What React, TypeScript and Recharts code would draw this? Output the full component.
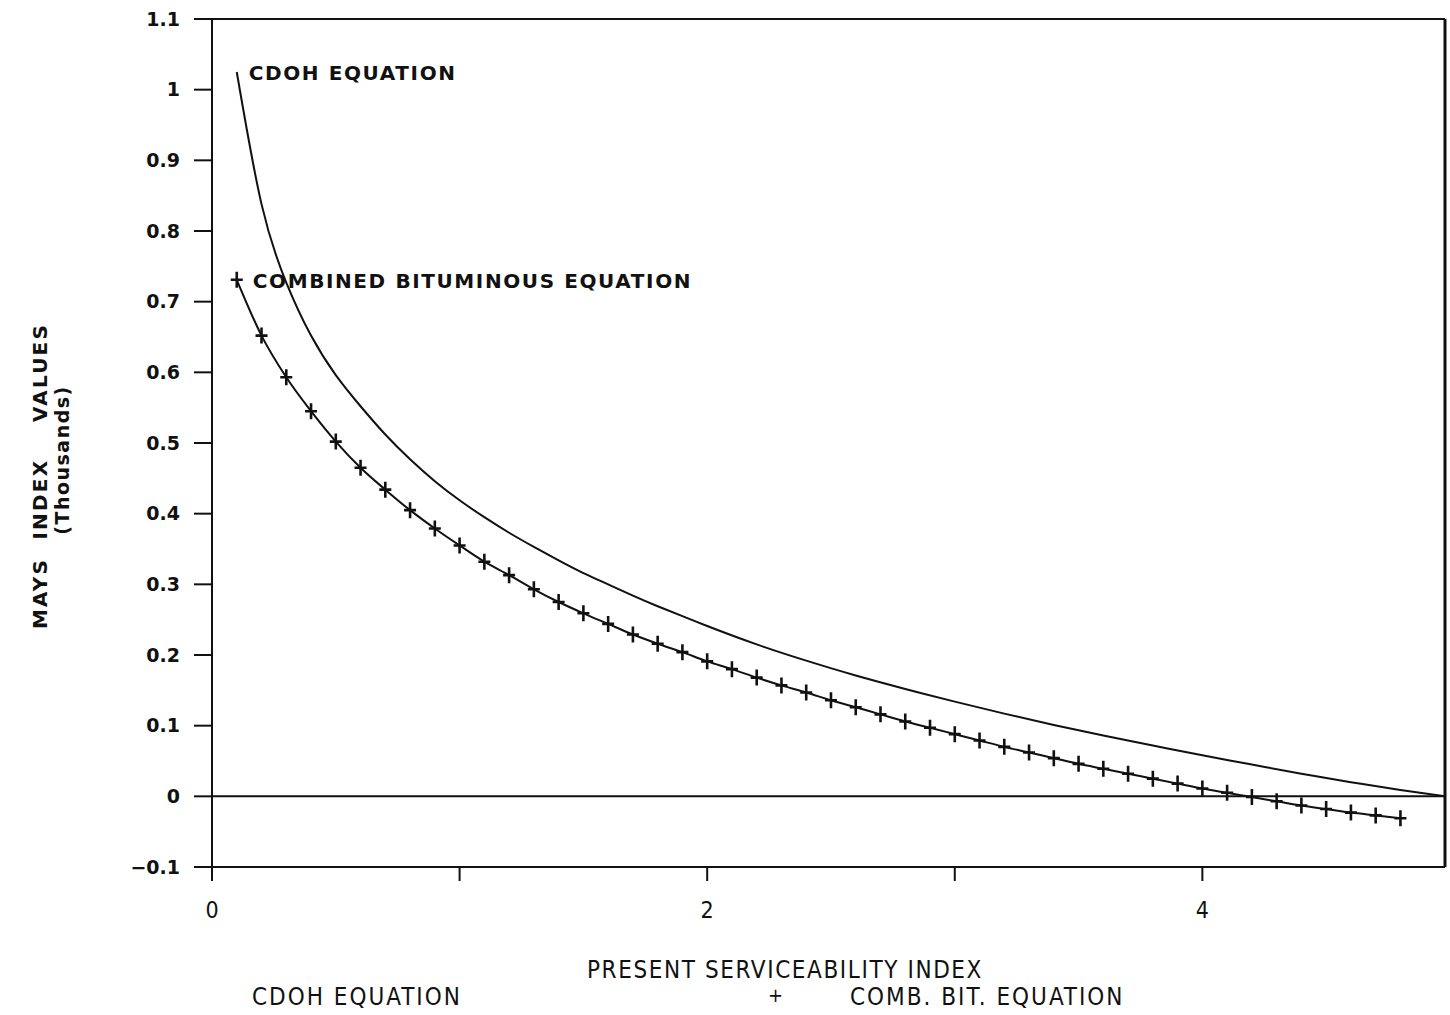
import React from 'react';
import { LineChart, Line, XAxis, YAxis, ReferenceLine, Legend, LabelList, Label } from 'recharts';

// CDOH equation curve
const cdohPsi = [0.1, 0.2, 0.3, 0.4, 0.5, 0.6, 0.7, 0.8, 0.9, 1.0, 1.1, 1.2, 1.3, 1.4, 1.5, 1.6, 1.7, 1.8, 1.9, 2.0, 2.2, 2.4, 2.6, 2.8, 3.0, 3.2, 3.4, 3.6, 3.8, 4.0, 4.2, 4.4, 4.6, 4.8, 4.98];
const cdohValues = [1.025, 0.838, 0.727, 0.652, 0.596, 0.552, 0.512, 0.477, 0.446, 0.419, 0.395, 0.373, 0.353, 0.334, 0.316, 0.3, 0.284, 0.269, 0.255, 0.241, 0.215, 0.192, 0.171, 0.152, 0.134, 0.117, 0.101, 0.086, 0.072, 0.058, 0.045, 0.032, 0.02, 0.009, 0.0];

// combined bituminous equation, one marker every 0.1 PSI
const combPsi = [0.1, 0.2, 0.3, 0.4, 0.5, 0.6, 0.7, 0.8, 0.9, 1.0, 1.1, 1.2, 1.3, 1.4, 1.5, 1.6, 1.7, 1.8, 1.9, 2.0, 2.1, 2.2, 2.3, 2.4, 2.5, 2.6, 2.7, 2.8, 2.9, 3.0, 3.1, 3.2, 3.3, 3.4, 3.5, 3.6, 3.7, 3.8, 3.9, 4.0, 4.1, 4.2, 4.3, 4.4, 4.5, 4.6, 4.7, 4.8];
const combValues = [0.731, 0.652, 0.593, 0.545, 0.502, 0.465, 0.434, 0.405, 0.379, 0.355, 0.332, 0.313, 0.293, 0.275, 0.259, 0.244, 0.229, 0.216, 0.204, 0.191, 0.18, 0.168, 0.157, 0.147, 0.136, 0.126, 0.116, 0.106, 0.097, 0.088, 0.079, 0.07, 0.062, 0.054, 0.046, 0.039, 0.032, 0.025, 0.018, 0.011, 0.005, -0.001, -0.007, -0.013, -0.018, -0.023, -0.027, -0.031];

const xTicks = [0, 1, 2, 3, 4];
const xTickLabels = ['0', '', '2', '', '4'];
const yTicks = [-0.1, 0, 0.1, 0.2, 0.3, 0.4, 0.5, 0.6, 0.7, 0.8, 0.9, 1.0, 1.1];
const yTickLabels = ['\u22120.1', '0', '0.1', '0.2', '0.3', '0.4', '0.5', '0.6', '0.7', '0.8', '0.9', '1', '1.1'];

const cdohData = cdohPsi.map((psi, i) => ({ psi, value: cdohValues[i] }));
const combData = combPsi.map((psi, i) => ({ psi, value: combValues[i] }));

const INK = '#111';
const boldFont = '"DejaVu Sans", sans-serif';
const narrowFont = '"DejaVu Sans Condensed", "DejaVu Sans", sans-serif';

const PlusDot = (props: any) => {
  const { cx, cy, index } = props;
  if (cx == null || cy == null) return <g key={index} />;
  return (
    <path
      key={index}
      d={`M${cx - 6},${cy}H${cx + 6}M${cx},${cy - 8}V${cy + 8}`}
      stroke={INK}
      strokeWidth={2.6}
      fill="none"
    />
  );
};

const seriesLabel = (text: string, dx: number) => (props: any) => {
  const { x, y, index } = props;
  if (index !== 0) return null;
  return (
    <text
      x={x + dx}
      y={y + 8}
      fill={INK}
      fontFamily={boldFont}
      fontWeight="bold"
      fontSize={20}
      letterSpacing={1.6}
    >
      {text}
    </text>
  );
};

const YTitle = (props: any) => {
  const { viewBox } = props;
  const cy = viewBox.y + viewBox.height / 2;
  return (
    <g fill={INK} fontFamily={boldFont} fontWeight="bold" fontSize={20} letterSpacing={2.2}>
      <text x={0} y={0} textAnchor="middle" transform={`translate(47, ${cy + 33}) rotate(-90)`} xmlSpace="preserve">
        {'MAYS  INDEX    VALUES'}
      </text>
      <text x={0} y={0} textAnchor="middle" fontSize={19} letterSpacing={1.5} transform={`translate(69, ${cy + 17}) rotate(-90)`}>
        (Thousands)
      </text>
    </g>
  );
};

const XTitle = (props: any) => {
  const { viewBox } = props;
  return (
    <text
      x={785}
      y={viewBox.y + 111}
      textAnchor="middle"
      fill={INK}
      fontFamily={narrowFont}
      fontSize={24}
      letterSpacing={1.6}
    >
      PRESENT SERVICEABILITY INDEX
    </text>
  );
};

const LegendContent = () => (
  <div style={{ position: 'relative', height: 30, fontFamily: narrowFont, fontSize: 24, color: INK, letterSpacing: 2 }}>
    <span style={{ position: 'absolute', left: 252, top: -2 }}>CDOH EQUATION</span>
    <span style={{ position: 'absolute', left: 768, top: -2, fontSize: 20 }}>+</span>
    <span style={{ position: 'absolute', left: 850, top: -2 }}>COMB. BIT. EQUATION</span>
  </div>
);

export default function App() {
  return (
    <div style={{ position: 'absolute', left: 0, top: 0, background: '#fff' }}>
      <LineChart width={1450} height={1015} margin={{ top: 19, right: 5, bottom: 0, left: 0 }}>
        <XAxis
          type="number"
          dataKey="psi"
          domain={[0, 4.98]}
          ticks={xTicks}
          allowDataOverflow
          tickFormatter={(v: number) => xTickLabels[xTicks.indexOf(v)] ?? ''}
          tick={{ fill: INK, fontFamily: narrowFont, fontSize: 23 }}
          tickSize={14}
          tickMargin={21}
          axisLine={{ stroke: INK, strokeWidth: 2 }}
          tickLine={{ stroke: INK, strokeWidth: 2 }}
          height={118}
        >
          <Label content={<XTitle />} />
        </XAxis>
        <YAxis
          type="number"
          domain={[-0.1, 1.1]}
          ticks={yTicks}
          allowDataOverflow
          tickFormatter={(v: number) => yTickLabels[yTicks.findIndex((t) => Math.abs(t - v) < 1e-6)] ?? ''}
          tick={{ fill: INK, fontFamily: boldFont, fontWeight: 'bold', fontSize: 19 }}
          tickSize={18}
          tickMargin={14}
          axisLine={{ stroke: INK, strokeWidth: 2 }}
          tickLine={{ stroke: INK, strokeWidth: 2 }}
          width={212}
        >
          <Label content={<YTitle />} />
        </YAxis>
        <ReferenceLine y={1.1} stroke={INK} strokeWidth={2} />
        <ReferenceLine x={4.98} stroke={INK} strokeWidth={3} />
        <ReferenceLine y={0} stroke={INK} strokeWidth={2} />
        <Legend
          verticalAlign="bottom"
          content={<LegendContent />}
          wrapperStyle={{ left: 0, bottom: 0, width: 1450, height: 30 }}
        />
        <Line
          data={cdohData}
          dataKey="value"
          name="CDOH EQUATION"
          type="natural"
          stroke={INK}
          strokeWidth={2}
          dot={false}
          isAnimationActive={false}
        >
          <LabelList dataKey="value" content={seriesLabel('CDOH EQUATION', 12)} />
        </Line>
        <Line
          data={combData}
          dataKey="value"
          name="COMB. BIT. EQUATION"
          type="monotone"
          stroke={INK}
          strokeWidth={2}
          dot={<PlusDot />}
          isAnimationActive={false}
        >
          <LabelList dataKey="value" content={seriesLabel('COMBINED BITUMINOUS EQUATION', 16)} />
        </Line>
      </LineChart>
    </div>
  );
}
